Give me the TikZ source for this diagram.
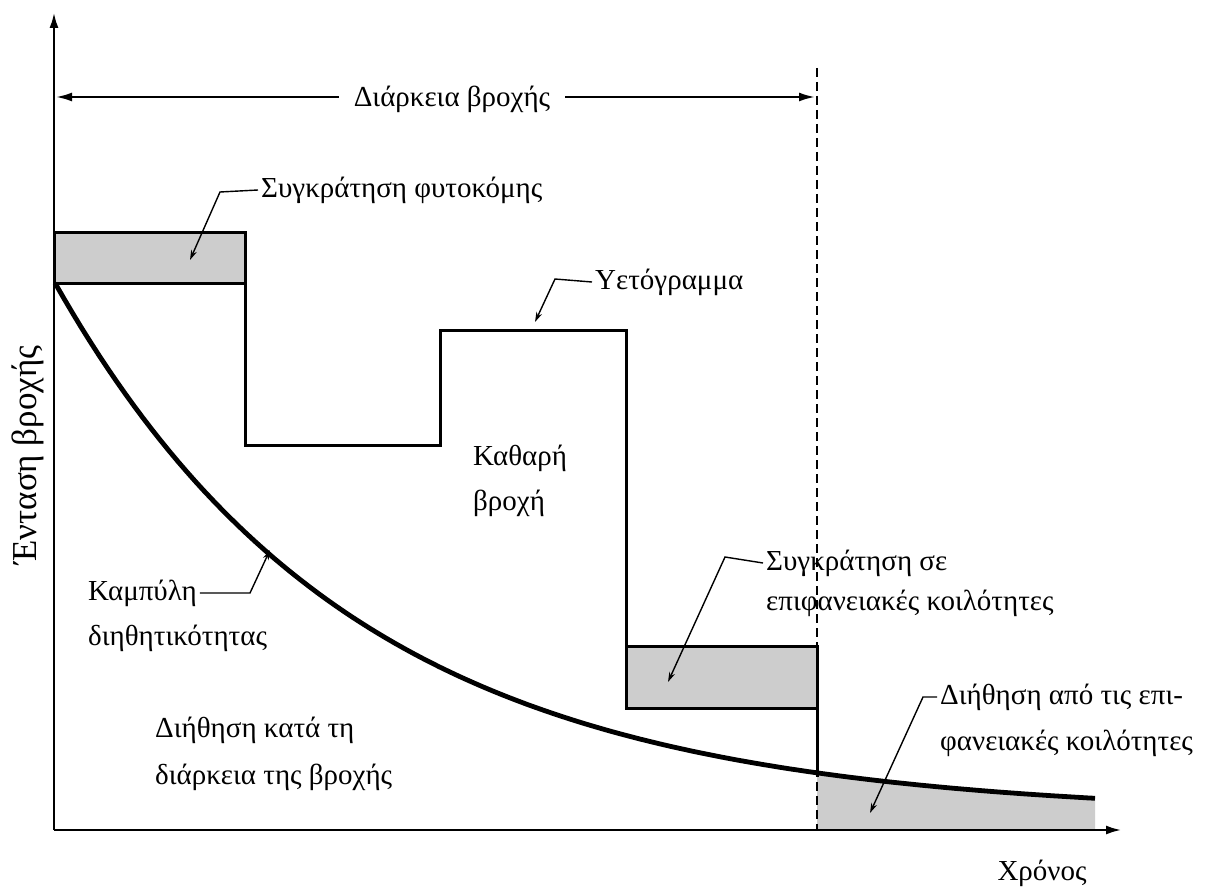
\documentclass[tikz,border=0pt]{standalone}
\usepackage{fontspec}
\setmainfont{Liberation Serif}
\usetikzlibrary{arrows.meta}
\definecolor{shadeg}{RGB}{205,205,205}
\begin{document}
\begin{tikzpicture}[x=1pt,y=-1pt,
  lbl/.style={inner sep=3pt, font=\fontsize{29}{34}\selectfont},
  axis/.style={line width=2.8pt, -{Latex[length=16pt,width=9pt]}},
  hyeto/.style={line width=3pt},
  infcurve/.style={line width=4.8pt},
  leader/.style={line width=1.4pt, -{Stealth[length=10pt,width=6pt]}},
  shadebox/.style={fill=shadeg, draw=black, line width=3pt},
  durarrow/.style={line width=2.2pt, -{Latex[length=16pt,width=9pt]}},
  dashline/.style={line width=1.8pt, dash pattern=on 9pt off 5pt}
]
\useasboundingbox (0,0) rectangle (1220,896);
\fill[white] (0,0) rectangle (1220,896);

% coordinates
\coordinate (O) at (54,830);
\coordinate (ytop) at (54,12);
\coordinate (xend) at (1122,830);
\coordinate (durL) at (56,97);
\coordinate (durR) at (815,97);
\coordinate (dtop) at (817,68);
\coordinate (dbot) at (817,830);

% shaded region under curve after rain
\fill[shadeg] (817,830) -- plot[domain=817:1095,samples=40] (\x,{815-532*exp(-0.00333*(\x-55))}) -- (1095,830) -- cycle;

% dashed end-of-rain line
\draw[dashline] (dtop) -- (dbot);

% shaded boxes
\draw[shadebox] (54,232) rectangle (245,283);
\draw[shadebox] (626,646) rectangle (817,708);

% hyetograph
\draw[hyeto] (245,232) -- (245,445) -- (440,445) -- (440,330) -- (626,330) -- (626,646);
\draw[hyeto] (817,646) -- (817,777);

% infiltration curve
\draw[infcurve] plot[domain=55:1095,samples=120] (\x,{815-532*exp(-0.00333*(\x-55))});

% axes
\draw[axis] (O) -- (ytop);
\draw[axis] (O) -- (xend);

% duration arrow
\node[lbl, inner xsep=15pt] (dur) at (452,99) {Διάρκεια βροχής};
\draw[durarrow] (dur.west |- durL) -- (durL);
\draw[durarrow] (dur.east |- durR) -- (durR);

% labels
\node[lbl, anchor=west] (fyto) at (258,190) {Συγκράτηση φυτοκόμης};
\coordinate (fytoB) at (220,192);
\coordinate (fytoT) at (190,260);
\draw[leader] (fyto.west) -- (fytoB) -- (fytoT);

\node[lbl, anchor=west] (yeto) at (592,282) {Υετόγραμμα};
\coordinate (yetoB) at (555,279);
\coordinate (yetoT) at (535,322);
\draw[leader] (yeto.west) -- (yetoB) -- (yetoT);

\node[lbl, anchor=west] (kath1) at (470,458) {Καθαρή};
\node[lbl, anchor=west] (kath2) at (470,503) {βροχή};

\node[lbl, anchor=west] (sse1) at (763,563) {Συγκράτηση σε};
\node[lbl, anchor=west] (sse2) at (763,603) {επιφανειακές κοιλότητες};
\coordinate (sseB) at (725,557);
\coordinate (sseT) at (668,682);
\draw[leader] (sse1.west) -- (sseB) -- (sseT);

\node[lbl, anchor=west] (dia1) at (937,697) {Διήθηση από τις επι-};
\node[lbl, anchor=west] (dia2) at (937,743) {φανειακές κοιλότητες};
\coordinate (diaB) at (923,697);
\coordinate (diaT) at (870,813);
\draw[leader] (dia1.west) -- (diaB) -- (diaT);

\node[lbl, anchor=west] (kamp1) at (85,593) {Καμπύλη};
\node[lbl, anchor=west] (kamp2) at (85,638) {διηθητικότητας};
\coordinate (kampB) at (250,593);
\coordinate (kampT) at (270,550);
\draw[leader] (kamp1.east) -- (kampB) -- (kampT);

\node[lbl, anchor=west] (dik1) at (152,730) {Διήθηση κατά τη};
\node[lbl, anchor=west] (dik2) at (152,777) {διάρκεια της βροχής};

\node[lbl] (xlab) at (1042,873) {Χρόνος};
\node[lbl, rotate=90, font=\fontsize{35}{40}\selectfont] (ylab) at (28,455) {Ένταση βροχής};
\end{tikzpicture}
\end{document}
